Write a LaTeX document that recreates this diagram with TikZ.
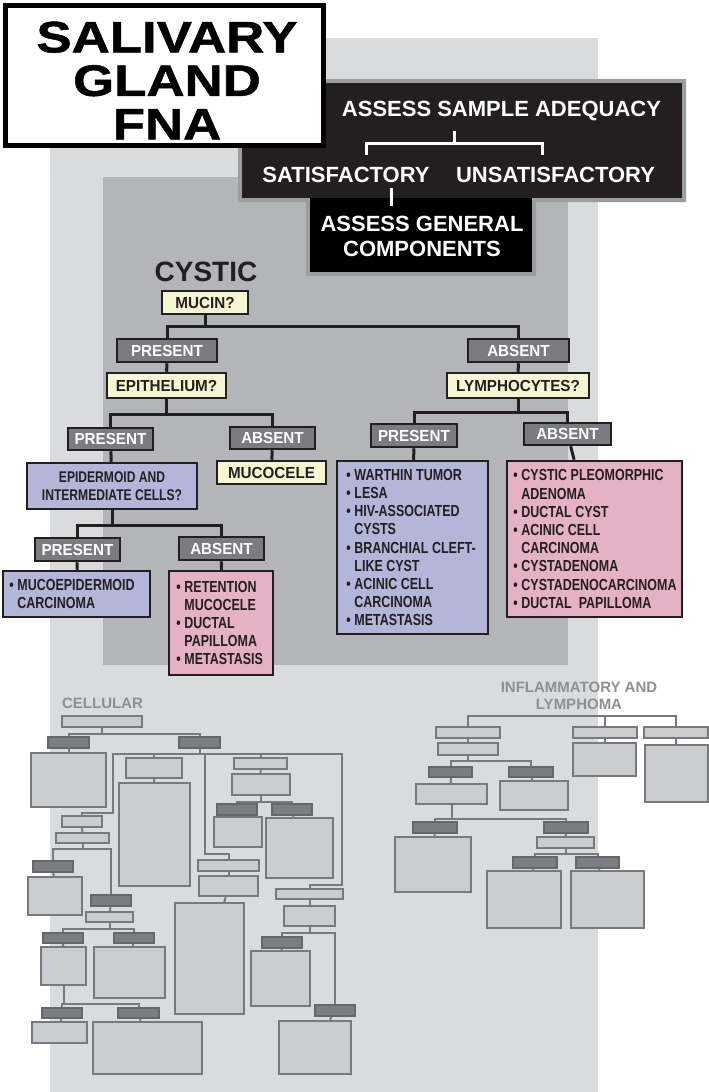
\documentclass[tikz,border=0pt]{standalone}
\usepackage{fontspec}
\setmainfont{Liberation Sans}
\newfontfamily\titlefont[FakeStretch=1.2,FakeBold=1.2]{Liberation Sans}
\newfontfamily\labelfont[FakeStretch=0.95]{Liberation Sans}
\newfontfamily\listfont[FakeStretch=0.78]{Liberation Sans}

\definecolor{ink}{RGB}{35,31,32}
\definecolor{pagegray}{RGB}{218,219,221}
\definecolor{cystgray}{RGB}{180,181,185}
\definecolor{edgegray}{RGB}{156,157,161}
\definecolor{qyellow}{RGB}{247,246,210}
\definecolor{barfill}{RGB}{123,124,130}
\definecolor{lavender}{RGB}{179,181,217}
\definecolor{rose}{RGB}{229,177,197}
\definecolor{ghostfill}{RGB}{203,204,208}
\definecolor{ghostline}{RGB}{120,121,125}
\definecolor{ghostbar}{RGB}{124,125,130}
\definecolor{ghosttext}{RGB}{142,143,147}

% bullets for the diagnosis lists
\newcommand\bul{\makebox[8pt][l]{\textbullet}}
\newcommand\cont{\hspace*{8pt}}

\begin{document}
\begin{tikzpicture}[
    x=1pt, y=-1pt,
    sz/.style 2 args={minimum width=#1pt, minimum height=#2pt},
    qbox/.style={draw=ink, line width=2.5pt, fill=qyellow, inner sep=0pt, text=ink, font=\labelfont\bfseries\fontsize{16}{18}\selectfont},
    ansbar/.style={draw=ink, line width=2.5pt, fill=barfill, inner sep=0pt, text=white, font=\labelfont\bfseries\fontsize{16}{18}\selectfont},
    listbox/.style={draw=ink, line width=2.5pt, inner sep=0pt},
    listtext/.style={anchor=west, align=left, inner sep=0pt, text=ink, font=\listfont\bfseries\fontsize{16}{18.2}\selectfont},
    link/.style={draw=ink, line width=3pt},
    wlink/.style={draw=white, line width=3pt},
    btext/.style={text=white, inner sep=0pt, align=center, font=\bfseries\fontsize{22}{25}\selectfont},
    gbox/.style={draw=ghostline, line width=2.3pt, fill=ghostfill, inner sep=0pt},
    gbar/.style={draw=ghostline!85!black, line width=1.5pt, fill=ghostbar, inner sep=0pt},
    glink/.style={draw=ghostline, line width=2pt},
    ghead/.style={text=ghosttext, inner sep=0pt, align=center, font=\bfseries\fontsize{15}{17}\selectfont}
]
    \useasboundingbox (0,0) rectangle (709,1092);

    % Panels
    \fill[pagegray] (50,38) rectangle (598,1092);
    \fill[cystgray] (103,177) rectangle (568,665);

    % Adequacy block
    \fill[edgegray] (238,79) -- (686,79) -- (686,202) -- (536,202) -- (536,276) -- (306,276) -- (306,202) -- (238,202) -- cycle;
    \fill[ink] (242,83) rectangle (682,198);
    \fill[black] (310,198) rectangle (532,272);

    \node[btext] (adeq) at (501.5,110.5) {ASSESS SAMPLE ADEQUACY};
    \node[btext] (sat) at (346,174.5) {SATISFACTORY};
    \node[btext] (unsat) at (555.5,174.5) {UNSATISFACTORY};
    \node[btext] (general) at (422,236) {ASSESS GENERAL\\COMPONENTS};

    \draw[wlink] ([xshift=-47.5pt,yshift=-10pt]adeq.south) -- ++(0,13) coordinate (fork) -| ([xshift=20pt,yshift=11.5pt]sat.north);
    \draw[wlink] (fork) -| ([xshift=-13.5pt,yshift=11.5pt]unsat.north);
    \draw[wlink] ([xshift=45pt,yshift=-5.5pt]sat.south) -- ([xshift=-31pt,yshift=10pt]general.north);

    % Title
    \draw[line width=4.5pt, fill=white] (5.5,5.5) rectangle (323.5,145.5);
    \node[inner sep=0pt, align=center, font=\titlefont\bfseries\fontsize{44}{43.5}\selectfont] (title) at (167,80.5) {SALIVARY\\GLAND\\FNA};

    % Cystic tree
    \node[text=ink, inner sep=0pt, font=\bfseries\fontsize{28}{30}\selectfont] (cystic) at (206,272) {CYSTIC};
    \node[qbox, sz={86}{23}] (mucin) at (205,302.5) {MUCIN?};
    \node[ansbar, sz={100}{23}] (pres1) at (167,350.5) {PRESENT};
    \node[ansbar, sz={101}{23}] (abs1) at (518.5,350.5) {ABSENT};
    \node[qbox, sz={119}{25}] (epith) at (166.5,385.5) {EPITHELIUM?};
    \node[qbox, sz={142}{25}] (lymph) at (518,385.5) {LYMPHOCYTES?};

    \node[ansbar, sz={85}{22}] (pres2) at (110.5,439) {PRESENT};
    \node[ansbar, sz={85}{22}] (abs2) at (272.5,438) {ABSENT};
    \node[ansbar, sz={86}{23}] (pres4) at (414,435.5) {PRESENT};
    \node[ansbar, sz={87}{22}] (abs4) at (567.5,434) {ABSENT};

    \node[listbox, fill=lavender, sz={170}{46}, align=center, text=ink,
          font=\listfont\bfseries\fontsize{15.5}{17.7}\selectfont] (epid) at (112,486) {EPIDERMOID AND\\INTERMEDIATE CELLS?};
    \node[qbox, sz={109}{23}] (mucocele) at (271.5,472.5) {MUCOCELE};

    \node[ansbar, sz={85}{23}] (pres3) at (77.5,549.5) {PRESENT};
    \node[ansbar, sz={85}{23}] (abs3) at (221.5,548.5) {ABSENT};

    \node[listbox, fill=lavender, sz={147}{46}] (mucoep) at (76.5,594) {};
    \node[listtext] (mucoep-t) at ([xshift=7.5pt]mucoep.west) {\bul MUCOEPIDERMOID\\\cont CARCINOMA};
    \node[listbox, fill=rose, sz={104}{104}] (retent) at (221,623) {};
    \node[listtext] (retent-t) at ([xshift=8.5pt]retent.west) {\bul RETENTION\\\cont MUCOCELE\\\bul DUCTAL\\\cont PAPILLOMA\\\bul METASTASIS};
    \node[listbox, fill=lavender, sz={151}{173}] (warthin) at (412.5,547.5) {};
    \node[listtext] (warthin-t) at ([xshift=10.5pt]warthin.west) {\bul WARTHIN TUMOR\\\bul LESA\\\bul HIV-ASSOCIATED\\\cont CYSTS\\\bul BRANCHIAL CLEFT-\\\cont LIKE CYST\\\bul ACINIC CELL\\\cont CARCINOMA\\\bul METASTASIS};
    \node[listbox, fill=rose, sz={175}{156}] (pleo) at (594.5,539) {};
    \node[listtext] (pleo-t) at ([xshift=7.5pt]pleo.west) {\bul CYSTIC PLEOMORPHIC\\\cont ADENOMA\\\bul DUCTAL CYST\\\bul ACINIC CELL\\\cont CARCINOMA\\\bul CYSTADENOMA\\\bul CYSTADENOCARCINOMA\\\bul DUCTAL~ PAPILLOMA};

    \draw[link] (mucin.south) -- ++(0,11) coordinate (m1) -| (pres1.north) (m1) -| (abs1.north);
    \draw[link] (pres1) -- (epith);
    \draw[link] (abs1) -- (lymph);
    \draw[link] (epith.south) -- ++(0,15) coordinate (m2) -| (pres2.north) (m2) -| (abs2.north);
    \draw[link] (lymph.south) -- ++(0,13) coordinate (m3) -| (pres4.north) (m3) -| (abs4.north);
    \draw[link] (pres2) -- (epid);
    \draw[link] (abs2) -- (mucocele);
    \draw[link] (epid.south) -- ++(0,15) coordinate (m4) -| (pres3.north) (m4) -| (abs3.north);
    \draw[link] (pres3) -- (mucoep);
    \draw[link] (abs3) -- (retent);
    \draw[link] (pres4) -- (warthin);
    \draw[link] (abs4) -- (pleo);

    % Cellular tree
    \node[ghead] (cellular) at (102.5,703.5) {CELLULAR};
    \node[gbox, sz={80}{11}] (c0) at (102,721.5) {};
    \node[gbar, sz={41}{11}] (cb1) at (68.5,742.5) {};
    \node[gbar, sz={41}{11}] (cb2) at (199.5,742.5) {};
    \node[gbox, sz={75}{54}] (cc1) at (68.5,780) {};
    \node[gbox, sz={56}{20}] (cd1) at (154,768) {};
    \node[gbox, sz={71}{103}] (cd2) at (154.5,834.5) {};
    \node[gbox, sz={53}{11}] (ce1) at (260.5,763.5) {};
    \node[gbox, sz={58}{21}] (ce2) at (261,784.5) {};
    \node[gbar, sz={40}{11}] (ce3) at (237,809.5) {};
    \node[gbar, sz={40}{11}] (ce4) at (292,809.5) {};
    \node[gbox, sz={48}{30}] (ce5) at (238,832) {};
    \node[gbox, sz={67}{60}] (ce6) at (299.5,848) {};
    \node[gbox, sz={40}{11}] (cf1) at (82,821.5) {};
    \node[gbox, sz={53}{10}] (cf2) at (82.5,838) {};
    \node[gbar, sz={40}{11}] (cf3) at (53,866.5) {};
    \node[gbox, sz={54}{38}] (cf4) at (55,896) {};
    \node[gbar, sz={40}{11}] (cf5) at (111,900.5) {};
    \node[gbox, sz={47}{10}] (cf6) at (109.5,917) {};
    \node[gbar, sz={40}{10}] (cf7) at (63,938) {};
    \node[gbar, sz={40}{10}] (cf8) at (134,938) {};
    \node[gbox, sz={45}{38}] (cf9) at (63.5,966) {};
    \node[gbox, sz={71}{51}] (cf10) at (129.5,972.5) {};
    \node[gbar, sz={40}{10}] (cf11) at (62,1013) {};
    \node[gbar, sz={41}{10}] (cf12) at (138.5,1013) {};
    \node[gbox, sz={55}{21}] (cf13) at (59.5,1032.5) {};
    \node[gbox, sz={109}{52}] (cf14) at (147.5,1048) {};
    \node[gbox, sz={61}{11}] (cg1) at (228.5,865.5) {};
    \node[gbox, sz={59}{20}] (cg2) at (228.5,886) {};
    \node[gbox, sz={69}{111}] (cg3) at (209.5,958.5) {};
    \node[gbox, sz={67}{10}] (ch1) at (309.5,894) {};
    \node[gbox, sz={51}{20}] (ch2) at (309.5,916) {};
    \node[gbar, sz={40}{11}] (ch3) at (282,942.5) {};
    \node[gbox, sz={59}{55}] (ch4) at (280.5,978.5) {};
    \node[gbar, sz={40}{11}] (ch5) at (335,1010.5) {};
    \node[gbox, sz={72}{53}] (ch6) at (315,1047.5) {};

    \draw[glink] (c0.south) -- ++(0,6) coordinate (g1) -| (cb1.north) (g1) -| (cb2.north);
    \draw[glink] (cb1) -- (cc1);
    \draw[glink] (cb2.south) -- ++(0,5) coordinate (cbus) -| (cd1.north) (cbus) -| (ce1.north);
    \draw[glink] (cbus) -| ++(-86.5,59) -| (cf1.north);
    \draw[glink] (cbus) -| ++(142.5,131) -| (ch1.north);
    \draw[glink] (cbus) -| ++(5.5,100) -| (cg1.north);
    \draw[glink] (cd1) -- (cd2);
    \draw[glink] (ce1) -- (ce2);
    \draw[glink] (ce2.south) -- ++(0,6) coordinate (g2) -| (ce3.north) (g2) -| (ce4.north);
    \draw[glink] (ce3) -- (ce5);
    \draw[glink] (ce4) -- (ce6);
    \draw[glink] (cf1) -- (cf2);
    \draw[glink] (cf2.south) -- ++(0,5) coordinate (g3) -| (cf3.north) (g3) -| (cf5.north);
    \draw[glink] (cf3) -- (cf4);
    \draw[glink] (cf5) -- (cf6);
    \draw[glink] (cf6.south) -- ++(0,6) coordinate (g4) -| (cf7.north) (g4) -| (cf8.north);
    \draw[glink] (cf7) -- (cf9);
    \draw[glink] (cf8) -- (cf10);
    \draw[glink] (cf9.south) -- ++(0,18) coordinate (g5) -| (cf11.north) (g5) -| (cf12.north);
    \draw[glink] (cf11) -- (cf13);
    \draw[glink] (cf12) -- (cf14);
    \draw[glink] (cg1) -- (cg2);
    \draw[glink] (cg2) -- (cg3);
    \draw[glink] (ch1) -- (ch2);
    \draw[glink] (ch2.south) -- ++(0,6) coordinate (g6) -| (ch3.north) (g6) -| (ch5.north);
    \draw[glink] (ch3) -- (ch4);
    \draw[glink] (ch5) -- (ch6);

    % Inflammatory and lymphoma tree
    \node[ghead] (inflam) at (579,696) {INFLAMMATORY AND\\LYMPHOMA};
    \node[gbox, sz={64}{11}] (i1) at (468,732.5) {};
    \node[gbox, sz={64}{11}] (i2) at (605,732.5) {};
    \node[gbox, sz={64}{11}] (i3) at (676,732.5) {};
    \node[gbox, sz={60}{12}] (i1b) at (468,749) {};
    \node[gbox, sz={63}{33}] (i2b) at (604.5,759.5) {};
    \node[gbox, sz={63}{57}] (i3b) at (676.5,773.5) {};
    \node[gbar, sz={43}{10}] (i4) at (450.5,772) {};
    \node[gbar, sz={44}{10}] (i5) at (531,772) {};
    \node[gbox, sz={71}{20}] (i6) at (451.5,794) {};
    \node[gbox, sz={68}{29}] (i7) at (534,795.5) {};
    \node[gbar, sz={44}{11}] (i8) at (435,827.5) {};
    \node[gbox, sz={76}{55}] (i9) at (433,864.5) {};
    \node[gbar, sz={44}{11}] (i10) at (566,827.5) {};
    \node[gbox, sz={57}{11}] (i11) at (565.5,842.5) {};
    \node[gbar, sz={44}{11}] (i12) at (535,862.5) {};
    \node[gbar, sz={43}{11}] (i13) at (597.5,862.5) {};
    \node[gbox, sz={74}{57}] (i14) at (524,899.5) {};
    \node[gbox, sz={73}{57}] (i15) at (607.5,899.5) {};

    \draw[glink] (i1.north) -- ++(0,-10) -| (i3.north);
    \draw[glink] (i2.north) -- ++(0,-10);
    \draw[glink] (i1) -- (i1b);
    \draw[glink] (i2) -- (i2b);
    \draw[glink] (i3) -- (i3b);
    \draw[glink] (i1b.south) -- ++(0,5) coordinate (h1) -| (i4.north) (h1) -| (i5.north);
    \draw[glink] (i4) -- (i6);
    \draw[glink] (i5) -- (i7);
    \draw[glink] (i6.south) -- ++(0,14) coordinate (h2) -| (i8.north) (h2) -| (i10.north);
    \draw[glink] (i8) -- (i9);
    \draw[glink] (i10) -- (i11);
    \draw[glink] (i11.south) -- ++(0,5) coordinate (h3) -| (i12.north) (h3) -| (i13.north);
    \draw[glink] (i12) -- (i14);
    \draw[glink] (i13) -- (i15);
\end{tikzpicture}
\end{document}
